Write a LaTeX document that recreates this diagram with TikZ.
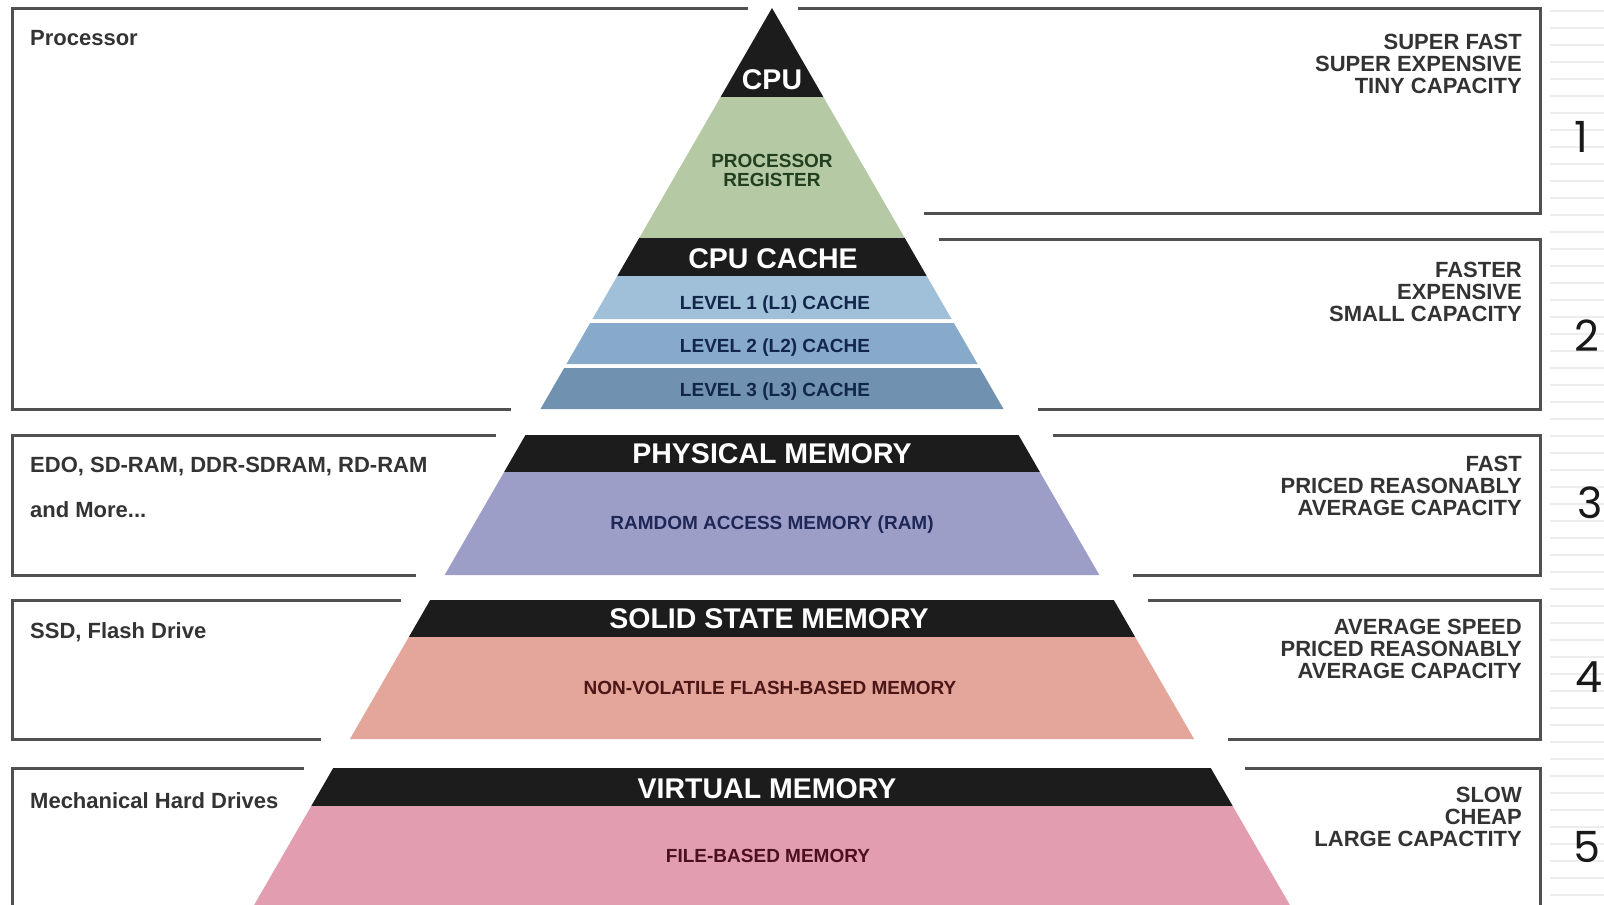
\documentclass[tikz,border=0pt]{standalone}
\usepackage{fontspec}
\setmainfont{Liberation Sans}
\newfontfamily\numfont{Poppins}
\definecolor{bandc}{HTML}{1C1C1C}
\definecolor{greenc}{HTML}{B4C9A4}
\definecolor{lonec}{HTML}{A0C0DA}
\definecolor{ltwoc}{HTML}{87A9CA}
\definecolor{lthreec}{HTML}{7091B0}
\definecolor{purplec}{HTML}{9D9EC8}
\definecolor{salmonc}{HTML}{E4A59B}
\definecolor{pinkc}{HTML}{E39DB0}
\definecolor{linec}{HTML}{505050}
\definecolor{sidec}{HTML}{333333}
\definecolor{stripec}{HTML}{EDEDED}
\definecolor{darkgreenc}{HTML}{22401F}
\definecolor{navyc}{HTML}{12264A}
\definecolor{ramc}{HTML}{1E2755}
\definecolor{maroonc}{HTML}{4A1616}
\definecolor{filec}{HTML}{4A1020}
\newcommand\pyrslice[3]{\fill[#3] ({772-0.57735*(#1-8)},#1) -- ({772+0.57735*(#1-8)},#1) -- ({772+0.57735*(#2-8)},#2) -- ({772-0.57735*(#2-8)},#2) -- cycle;}
\tikzset{
  boxline/.style={draw=linec, line width=3pt, line join=miter},
  stripe/.style={draw=stripec, line width=2.5pt},
  bandtxt/.style={text=white, font=\bfseries\fontsize{28.5}{28.5}\selectfont, anchor=base, inner sep=0pt},
  layertxt/.style={font=\bfseries\fontsize{19}{19}\selectfont, anchor=base, inner sep=0pt},
  sidetxt/.style={text=sidec, font=\bfseries\fontsize{22}{22}\selectfont, anchor=base west, inner sep=0pt},
  proptxt/.style={text=sidec, font=\bfseries\fontsize{22}{22}\selectfont, anchor=base east, inner sep=0pt},
  numtxt/.style={text=black!90, font=\numfont\fontsize{43}{43}\selectfont, anchor=base, inner sep=0pt}
}
\begin{document}
\begin{tikzpicture}[x=1pt,y=-1pt]
\useasboundingbox (0,0) rectangle (1604,905);
\fill[white] (0,0) rectangle (1604,905);
% stripes at right
\foreach \i in {0,...,52} {\draw[stripe] (1550,{11+17*\i}) -- (1604,{11+17*\i});}
% pyramid slices
\pyrslice{8}{97}{bandc}
\pyrslice{97}{238}{greenc}
\pyrslice{238}{276}{bandc}
\pyrslice{276}{319}{lonec}
\pyrslice{323}{364}{ltwoc}
\pyrslice{368}{409}{lthreec}
\pyrslice{435}{472}{bandc}
\pyrslice{472}{575}{purplec}
\pyrslice{600}{637}{bandc}
\pyrslice{637}{739}{salmonc}
\pyrslice{768}{806}{bandc}
\pyrslice{806}{905}{pinkc}
% boxes
\draw[boxline] (748,8) -- (12,8) -- (12,409) -- ({772-0.57735*(409-8)-29},409);
\draw[boxline] (798,8) -- (1540,8) -- (1540,213) -- ({772+0.57735*(213-8)+34},213);
\draw[boxline] ({772+0.57735*(239-8)+34},239) -- (1540,239) -- (1540,409) -- ({772+0.57735*(409-8)+34},409);
\draw[boxline] ({772-0.57735*(435-8)-29},435) -- (12,435) -- (12,575) -- ({772-0.57735*(575-8)-29},575);
\draw[boxline] ({772+0.57735*(435-8)+34},435) -- (1540,435) -- (1540,575) -- ({772+0.57735*(575-8)+34},575);
\draw[boxline] ({772-0.57735*(600-8)-29},600) -- (12,600) -- (12,739) -- ({772-0.57735*(739-8)-29},739);
\draw[boxline] ({772+0.57735*(600-8)+34},600) -- (1540,600) -- (1540,739) -- ({772+0.57735*(739-8)+34},739);
\draw[boxline] ({772-0.57735*(768-8)-29},768) -- (12,768) -- (12,906);
\draw[boxline] ({772+0.57735*(768-8)+34},768) -- (1540,768) -- (1540,906);
% pyramid texts
\node[bandtxt] (cpu) at (772,89) {CPU};
\node[layertxt, text=darkgreenc] (reg1) at (772,167) {PROCESSOR};
\node[layertxt, text=darkgreenc] (reg2) at (772,186) {REGISTER};
\node[bandtxt] (cache) at (773,268) {CPU CACHE};
\node[layertxt, text=navyc] (lone) at (775,309) {LEVEL 1 (L1) CACHE};
\node[layertxt, text=navyc] (ltwo) at (775,352) {LEVEL 2 (L2) CACHE};
\node[layertxt, text=navyc] (lthree) at (775,396) {LEVEL 3 (L3) CACHE};
\node[bandtxt] (phys) at (772,463) {PHYSICAL MEMORY};
\node[layertxt, text=ramc] (ram) at (772,529) {RAMDOM ACCESS MEMORY (RAM)};
\node[bandtxt] (ssd) at (769,628) {SOLID STATE MEMORY};
\node[layertxt, text=maroonc] (flash) at (770,694) {NON-VOLATILE FLASH-BASED MEMORY};
\node[bandtxt] (virt) at (767,798) {VIRTUAL MEMORY};
\node[layertxt, text=filec] (file) at (768,862) {FILE-BASED MEMORY};
% left texts
\node[sidetxt] (proc) at (30,45) {Processor};
\node[sidetxt] (edo) at (30,472) {EDO, SD-RAM, DDR-SDRAM, RD-RAM};
\node[sidetxt] (more) at (30,517) {and More...};
\node[sidetxt] (flashdrv) at (30,638) {SSD, Flash Drive};
\node[sidetxt] (hdd) at (30,808) {Mechanical Hard Drives};
% right texts
\node[proptxt] (pa1) at (1522,49) {SUPER FAST};
\node[proptxt] (pa2) at (1522,71) {SUPER EXPENSIVE};
\node[proptxt] (pa3) at (1522,93) {TINY CAPACITY};
\node[proptxt] (pb1) at (1522,277) {FASTER};
\node[proptxt] (pb2) at (1522,299) {EXPENSIVE};
\node[proptxt] (pb3) at (1522,321) {SMALL CAPACITY};
\node[proptxt] (pc1) at (1522,471) {FAST};
\node[proptxt] (pc2) at (1522,493) {PRICED REASONABLY};
\node[proptxt] (pc3) at (1522,515) {AVERAGE CAPACITY};
\node[proptxt] (pd1) at (1522,634) {AVERAGE SPEED};
\node[proptxt] (pd2) at (1522,656) {PRICED REASONABLY};
\node[proptxt] (pd3) at (1522,678) {AVERAGE CAPACITY};
\node[proptxt] (pe1) at (1522,802) {SLOW};
\node[proptxt] (pe2) at (1522,824) {CHEAP};
\node[proptxt] (pe3) at (1522,846) {LARGE CAPACTITY};
% numbers
\node[numtxt] (n1) at (1581,152) {1};
\node[numtxt] (n2) at (1587,351) {2};
\node[numtxt] (n3) at (1590,518) {3};
\node[numtxt] (n4) at (1589,692) {4};
\node[numtxt] (n5) at (1587,862) {5};
\end{tikzpicture}
\end{document}
